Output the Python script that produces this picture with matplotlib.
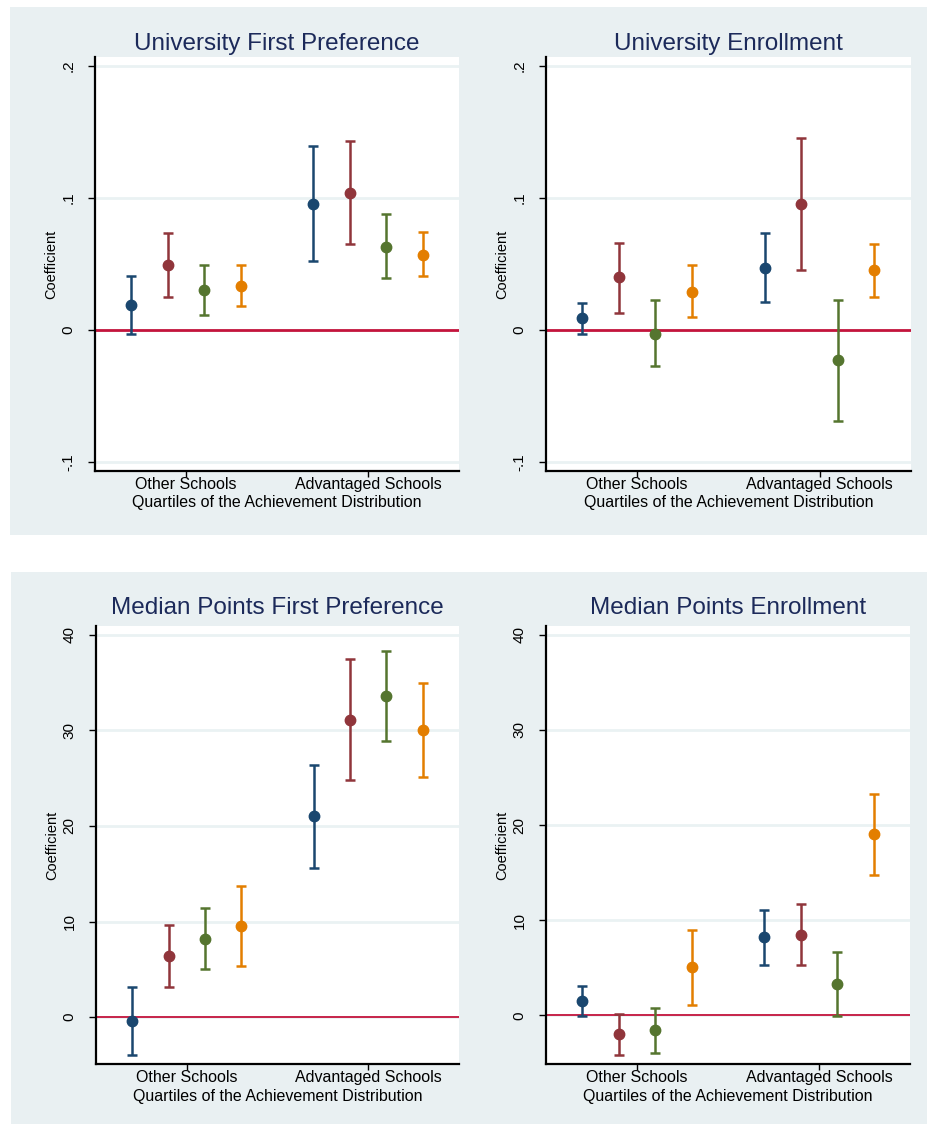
import matplotlib
matplotlib.use("Agg")
import matplotlib.pyplot as plt
from matplotlib.patches import Rectangle

W, H = 928, 1124

# data: rows = quartiles 1..4, columns = (Other Schools, Advantaged Schools)
groups = ["Other Schools", "Advantaged Schools"]
quartile_colors = ["#1a476f", "#90353b", "#55752f", "#e37e00"]

ufp_coef = [[0.019, 0.095], [0.049, 0.104], [0.030, 0.063], [0.033, 0.057]]
ufp_lo = [[-0.003, 0.052], [0.025, 0.065], [0.011, 0.039], [0.018, 0.041]]
ufp_hi = [[0.041, 0.139], [0.073, 0.143], [0.049, 0.088], [0.049, 0.074]]

ue_coef = [[0.009, 0.047], [0.040, 0.095], [-0.003, -0.023], [0.029, 0.045]]
ue_lo = [[-0.003, 0.021], [0.013, 0.045], [-0.027, -0.069], [0.010, 0.025]]
ue_hi = [[0.020, 0.073], [0.066, 0.145], [0.023, 0.023], [0.049, 0.065]]

mpf_coef = [[-0.4, 21.0], [6.4, 31.1], [8.2, 33.6], [9.5, 30.0]]
mpf_lo = [[-4.0, 15.6], [3.1, 24.8], [5.0, 28.9], [5.3, 25.1]]
mpf_hi = [[3.1, 26.4], [9.6, 37.5], [11.4, 38.3], [13.7, 34.9]]

mpe_coef = [[1.5, 8.2], [-2.0, 8.5], [-1.5, 3.3], [5.1, 19.1]]
mpe_lo = [[-0.1, 5.3], [-4.2, 5.3], [-3.9, -0.1], [1.1, 14.8]]
mpe_hi = [[3.1, 11.1], [0.2, 11.7], [0.8, 6.7], [9.0, 23.3]]

prop_ticks = [-0.1, 0, 0.1, 0.2]
prop_labels = ["-.1", "0", ".1", ".2"]
pts_ticks = [0, 10, 20, 30, 40]
pts_labels = ["0", "10", "20", "30", "40"]

BG = "#e9f0f2"
GRID = "#eaf2f3"
TITLE = "#1c2a5a"
ZERO = "#c4143c"

plt.rcParams["font.family"] = ["Liberation Sans", "DejaVu Sans"]

fig = plt.figure(figsize=(W / 100, H / 100), dpi=100)
fig.patch.set_facecolor("white")


def px(x, y):
    return x / W, 1 - y / H


# the two grey graph regions
for x0, y0, x1, y1 in [(10, 7, 928, 535), (11, 572, 928, 1124)]:
    fig.add_artist(Rectangle(px(x0, y1), (x1 - x0) / W, (y1 - y0) / H,
                             transform=fig.transFigure, facecolor=BG,
                             edgecolor="none", zorder=0))


def panel(box, title, title_y, coef, lo, hi, ylim, ticks, labels, zero_lw):
    l, t, r, b = box
    x0, y0 = px(l, b)
    ax = fig.add_axes([x0, y0, (r - l) / W, (b - t) / H])
    ax.set_facecolor("white")
    offsets = [-0.3, -0.1, 0.1, 0.3]
    for q in range(4):
        xs = [g + 1 + offsets[q] for g in range(len(groups))]
        c = coef[q]
        err = [[c[g] - lo[q][g] for g in range(2)], [hi[q][g] - c[g] for g in range(2)]]
        ax.errorbar(xs, c, yerr=err, fmt="o", color=quartile_colors[q], ms=7.5,
                    capsize=3.5, elinewidth=1.8, capthick=1.8, zorder=3)
    ax.axhline(0, color=ZERO, lw=zero_lw, zorder=2)
    ax.set_xlim(0.5, 2.5)
    ax.set_ylim(*ylim)
    ax.set_yticks(ticks)
    ax.set_yticklabels(labels, rotation=90, va="center", fontsize=11)
    ax.set_xticks([1, 2])
    ax.set_xticklabels(groups, fontsize=11.5)
    ax.tick_params(axis="y", length=5, width=1, pad=9)
    ax.tick_params(axis="x", length=4, width=1, pad=0)
    ax.grid(axis="y", color=GRID, lw=2)
    ax.set_axisbelow(True)
    for s in ["top", "right"]:
        ax.spines[s].set_visible(False)
    for s in ["left", "bottom"]:
        ax.spines[s].set_linewidth(1.6)
    ax.set_ylabel("Coefficient", fontsize=10.5)
    ax.yaxis.set_label_coords(-37 / (r - l), 0.5)
    cx = (l + r) / 2
    fig.text(*px(cx, title_y), title, ha="center", va="center",
             fontsize=17.5, color=TITLE)
    fig.text(*px(cx, b + 32), "Quartiles of the Achievement Distribution",
             ha="center", va="center", fontsize=11.5)
    return ax


panel((95, 57, 459, 471), "University First Preference", 44,
      ufp_coef, ufp_lo, ufp_hi, (-0.1068, 0.2066), prop_ticks, prop_labels, 2.0)
panel((546, 57, 911, 471), "University Enrollment", 44,
      ue_coef, ue_lo, ue_hi, (-0.1068, 0.2066), prop_ticks, prop_labels, 2.0)
panel((96, 626, 459, 1064), "Median Points First Preference", 608,
      mpf_coef, mpf_lo, mpf_hi, (-4.9, 40.9), pts_ticks, pts_labels, 1.3)
panel((546, 626, 910, 1064), "Median Points Enrollment", 608,
      mpe_coef, mpe_lo, mpe_hi, (-5.1, 40.9), pts_ticks, pts_labels, 1.3)

fig.savefig("out.png", dpi=100, facecolor="white")
